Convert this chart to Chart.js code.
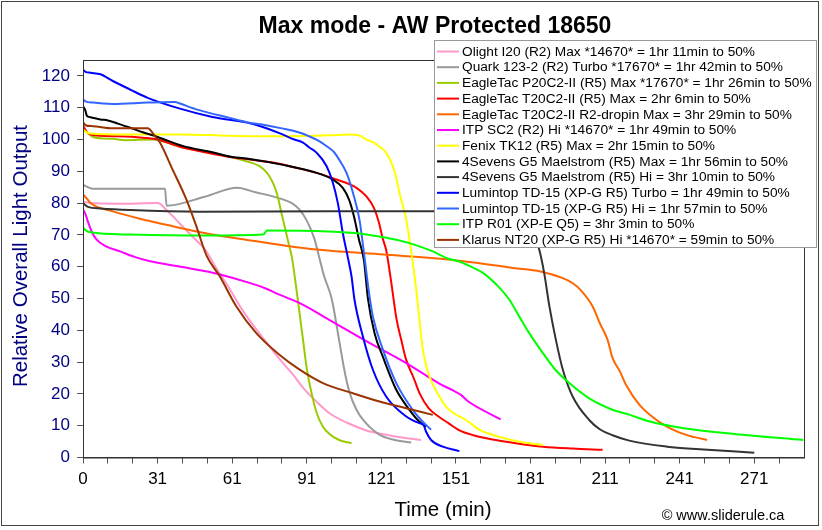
<!DOCTYPE html>
<html>
<head>
<meta charset="utf-8">
<title>Max mode - AW Protected 18650</title>
<script src="https://cdn.jsdelivr.net/npm/chart.js@4"></script>
<style>
  body { margin: 0; background: #fff; }
  #wrap { width: 822px; height: 530px; }
</style>
</head>
<body>
<div id="wrap"><canvas id="runtimeChart" width="822" height="530"></canvas></div>
<script>
// runtime curves, [minutes, relative output]
const olightI20 = [[1,80.5],[4,80],[15,79.8],[31,80],[35,77.5],[40,73.5],[45,69.5],[50,65.5],[55,59],[60,53],[65,46.5],[70,41],[75,36],[80,31],[85,26.5],[90,21.5],[95,17.5],[100,14],[107,11],[115,8.5],[122,7.3],[130,6.2],[137,5.5]];
const quark123 = [[1,85.8],[3,85],[5,84.5],[34,84.5],[34.6,79.2],[50,82],[63,84.8],[70,83.5],[80,81.5],[85,80],[88,78],[91,74.5],[94,69],[96,63],[98,57],[101,50],[104,37],[106,28],[108,21],[111,15],[114,11.5],[120,7.3],[126,5.6],[133,4.7]];
const eagleP20 = [[1,103.5],[3,102],[5,100.8],[13,100.2],[18,99.8],[29,100],[35,99],[40,97.7],[56,95.3],[66,93.3],[72,91.6],[75,89.5],[77,87],[79,83],[80.5,78],[82,73],[83.5,68],[85,63],[86.5,55],[88,46],[89.5,37],[91,28],[93,20],[95,14],[97.5,9.7],[100,7.5],[104,5.5],[109,4.5]];
const eagleT20 = [[1,104.5],[2,103],[4,101.6],[15,101],[26,100.5],[31,100],[40,97.7],[50,96],[60,94.5],[68,93.7],[80,92.4],[84,91.6],[95,89.5],[103,87.4],[108,86],[111,84.8],[115,82.1],[118,78.5],[120,74],[121.5,69],[123,65],[125,55],[127,44],[129,37],[131,30.7],[134,25],[136.5,20],[140,15.5],[144,12.9],[148,10.8],[152,8.7],[158,7],[167,5.5],[175,4.5],[186,3.4],[198,2.8],[210,2.4]];
const eagleDropin = [[1,82.7],[3,81],[4,80],[13,77.4],[27,74.5],[40,72.2],[53,70.1],[67,68.4],[80,66.9],[95,65.4],[122,63.8],[141,62.7],[154,61.7],[174,59.6],[185,58.5],[194,56.4],[198,54.8],[201,52.8],[206,47.5],[209,42],[212,37],[214,31.3],[217,27],[219.5,22.7],[225,16.4],[233,11.1],[241,7.8],[247,6.4],[252,5.5]];
const itpSC2 = [[1,78],[2,76.5],[2.7,74.8],[4.5,71],[6.5,68.5],[10,66.5],[16,64.8],[22,63],[28,61.7],[41,59.9],[51,58.5],[55,57.8],[68,54.9],[74,53.3],[80,51.2],[88,48.6],[100,43.3],[114,37],[131,29.7],[144,23.4],[150,21],[153,19.7],[156,17.6],[169,12]];
const fenixTK12 = [[1,103.1],[2,102.5],[4,101.9],[20,101.6],[40,101.6],[60,101.2],[80,101],[100,101.3],[108,101.6],[112,101.3],[115,100],[118,99],[120,97.9],[123,95.8],[125.6,91.6],[127,88],[128.3,83.2],[131,74.8],[133,65],[135,53],[136.5,42],[137.7,34],[139.5,27.5],[141.7,23],[144.4,19.1],[147,16],[150,14],[155,11.8],[161,8.5],[168,6.6],[176,5],[186,3.9]];
const g5Max = [[1,110.5],[2,109],[2.5,107.5],[4,107],[8,106.3],[11,106],[15,105],[20,103.7],[25,102.3],[31,100.8],[41,98],[53,96],[61,94.5],[68,93.9],[81,92.1],[95,89.5],[101.5,87.4],[105.5,84.8],[108,81.1],[110,75.8],[112,68.5],[114,62],[115.6,50],[118.3,39],[121.6,31.7],[127,21.3],[132.3,15],[136,11.5],[139,9.7]];
const g5Hi = [[1,80],[3,78.8],[8,78.3],[20,77.8],[48,77.3],[100,77.4],[150,77.4],[172,77],[178,75.5],[182,71],[184.5,65.4],[186.5,58],[188.6,47.5],[191.2,37],[194,27.6],[198,19.1],[204.6,11.8],[209,8.8],[214,7],[220.7,5.3],[236,3.4],[249,2.6],[271,1.5]];
const td15Turbo = [[1,122],[2,121.3],[4,121],[8,120.5],[13,118.4],[20,115.7],[27,113.1],[40,109.7],[53,107.1],[67,105.3],[73,104],[80,102],[86,100],[89.5,99],[92,97.5],[95,95.8],[99,91.6],[101.5,86.4],[103.5,80],[105.5,70.6],[107.5,63],[109,57],[110.2,49.6],[113.6,38],[117.6,27.6],[123,19.1],[131,12.9],[136.3,10.8],[138,10.2],[139,8.1],[141,5.5],[145.7,3.4],[152.4,2]];
const td15Hi = [[1,112.6],[2,112],[5,111.6],[13,111.2],[27,111.6],[38,111.8],[40,111.3],[47,109.4],[60,106.8],[68,105.3],[73,104.7],[81,103.5],[88,102.2],[92,101],[96,99.5],[99,97.9],[102,96],[104,93.7],[107,89.5],[109.6,83.2],[112.2,74.8],[114.3,62.5],[116,52],[117.6,44.3],[121.6,34],[127,23.4],[133.6,15],[137,11.8],[141,8.7]];
const itpR01 = [[1,72.4],[2,71.5],[4,70.8],[20,70.1],[50,69.8],[73.5,70.1],[75,71.4],[100,71.1],[110,70.6],[115,70.1],[125,68.8],[132,67.5],[141.7,64.8],[148,62.5],[152,61.7],[157,60],[162,58],[168,53.8],[172.5,49.6],[176.5,44.3],[180.5,39.1],[186,32.8],[191,27.6],[196.6,23.4],[204.6,18.6],[214,15],[221,13.4],[229,11.3],[242.6,9.2],[263,7.4],[290.7,5.5]];
const klarusNT20 = [[1,105.5],[2,104.5],[5,104.2],[13,103.5],[27,103.5],[30,101],[32,99],[37,90.6],[42.6,81.1],[46.6,72.7],[50.7,63.5],[56,57],[62.7,47.5],[70.7,39.1],[80,32.3],[88,27.7],[97.5,23.4],[109.6,20.2],[120.3,17.6],[131,15.5],[141.7,13.4]];

const seriesLabels = [
  'Olight I20 (R2) Max *14670* = 1hr 11min to 50%',
  'Quark 123-2 (R2) Turbo *17670* = 1hr 42min to 50%',
  'EagleTac P20C2-II (R5) Max *17670* = 1hr 26min to 50%',
  'EagleTac T20C2-II (R5) Max = 2hr 6min to 50%',
  'EagleTac T20C2-II R2-dropin Max = 3hr 29min to 50%',
  'ITP SC2 (R2) Hi *14670* = 1hr 49min to 50%',
  'Fenix TK12 (R5) Max = 2hr 15min to 50%',
  '4Sevens G5 Maelstrom (R5) Max = 1hr 56min to 50%',
  '4Sevens G5 Maelstrom (R5) Hi = 3hr 10min to 50%',
  'Lumintop TD-15 (XP-G R5) Turbo = 1hr 49min to 50%',
  'Lumintop TD-15 (XP-G R5) Hi = 1hr 57min to 50%',
  'ITP R01 (XP-E Q5) = 3hr 3min to 50%',
  'Klarus NT20 (XP-G R5) Hi *14670* = 59min to 50%'
];
const seriesData = [olightI20, quark123, eagleP20, eagleT20, eagleDropin, itpSC2, fenixTK12, g5Max, g5Hi, td15Turbo, td15Hi, itpR01, klarusNT20];
const seriesColors = ['#ff99cc', '#999999', '#99cc00', '#ff0000', '#ff6600', '#ff00ff', '#ffff00', '#000000', '#333333', '#0000ff', '#3366ff', '#00ff00', '#993300'];

const xTickValues = [1, 11, 21, 31, 41, 51, 61, 71, 81, 91, 101, 111, 121, 131, 141, 151, 161, 171, 181, 191, 201, 211, 221, 231, 241, 251, 261, 271, 281];
const xTickLabels = { 1: '0', 31: '31', 61: '61', 91: '91', 121: '121', 151: '151', 181: '181', 211: '211', 241: '241', 271: '271' };
const yTickValues = [0, 10, 20, 30, 40, 50, 60, 70, 80, 90, 100, 110, 120];

const chartTitle = 'Max mode - AW Protected 18650';
const xTitle = 'Time (min)';
const yTitle = 'Relative Overall Light Output';
const credit = '\u00a9 www.sliderule.ca';

const FONT = 'Arial, "Liberation Sans", sans-serif';
const NAVY = '#000080';

const decor = {
  id: 'decor',
  beforeDraw(chart) {
    const ctx = chart.ctx;
    ctx.save();
    ctx.fillStyle = '#fff';
    ctx.fillRect(0, 0, chart.width, chart.height);
    ctx.restore();
  },
  afterDraw(chart) {
    const ctx = chart.ctx;
    const a = chart.chartArea;
    ctx.save();
    // plot frame
    ctx.strokeStyle = '#333';
    ctx.lineWidth = 1;
    ctx.strokeRect(a.left + 0.5, a.top + 0.5, a.right - a.left, a.bottom - a.top);
    // outer frame
    ctx.strokeStyle = '#444';
    ctx.strokeRect(1.5, 1.5, 817, 524);

    ctx.fillStyle = '#000';
    ctx.textAlign = 'center';
    ctx.textBaseline = 'middle';
    ctx.font = 'bold 23px ' + FONT;
    ctx.fillText(chartTitle, 435, 27);
    ctx.font = '20.5px ' + FONT;
    ctx.fillText(xTitle, 443, 510);
    ctx.font = '14.5px ' + FONT;
    ctx.fillText(credit, 723, 516);

    ctx.save();
    ctx.translate(21, 256);
    ctx.rotate(-Math.PI / 2);
    ctx.fillStyle = NAVY;
    ctx.font = '20.5px ' + FONT;
    ctx.fillText(yTitle, 0, 0);
    ctx.restore();

    // legend box
    const lx = 434, ly = 40, lw = 382, lh = 207;
    ctx.fillStyle = '#fff';
    ctx.fillRect(lx, ly, lw, lh);
    ctx.strokeStyle = '#999';
    ctx.strokeRect(lx + 0.5, ly + 0.5, lw, lh);
    ctx.font = '13.7px ' + FONT;
    ctx.textAlign = 'left';
    chart.data.datasets.forEach((ds, i) => {
      const yy = 51.5 + i * 15.7;
      ctx.strokeStyle = ds.borderColor;
      ctx.lineWidth = 2;
      ctx.beginPath();
      ctx.moveTo(437, yy);
      ctx.lineTo(459, yy);
      ctx.stroke();
      ctx.fillStyle = '#000';
      ctx.fillText(ds.label, 462, yy + 0.5);
    });
    ctx.restore();
  }
};

new Chart(document.getElementById('runtimeChart'), {
  type: 'line',
  data: {
    datasets: seriesData.map((pts, i) => ({
      label: seriesLabels[i],
      data: pts.map(p => ({ x: p[0], y: p[1] })),
      borderColor: seriesColors[i],
      backgroundColor: seriesColors[i],
      borderWidth: 2,
      pointRadius: 0,
      cubicInterpolationMode: 'monotone',
      fill: false,
      order: seriesData.length - i
    }))
  },
  options: {
    responsive: false,
    animation: false,
    layout: { padding: { top: 60, right: 18, left: 0, bottom: 0 } },
    plugins: {
      legend: { display: false },
      tooltip: { enabled: false }
    },
    scales: {
      x: {
        type: 'linear',
        min: 1,
        max: 291,
        afterBuildTicks: scale => { scale.ticks = xTickValues.map(v => ({ value: v })); },
        afterFit: scale => { scale.height = 72.5; },
        grid: { drawOnChartArea: false, tickLength: 6, color: '#555' },
        border: { color: '#333' },
        ticks: {
          autoSkip: false,
          maxRotation: 0,
          padding: 6,
          color: '#000',
          font: { family: FONT, size: 17 },
          callback: v => xTickLabels[v] || ''
        }
      },
      y: {
        min: 0,
        max: 125,
        afterBuildTicks: scale => { scale.ticks = yTickValues.map(v => ({ value: v })); },
        afterFit: scale => { scale.width = 83; },
        grid: { drawOnChartArea: false, tickLength: 6, color: '#555' },
        border: { color: '#333' },
        ticks: {
          padding: 7,
          color: NAVY,
          font: { family: FONT, size: 17 }
        }
      }
    }
  },
  plugins: [decor]
});
</script>
</body>
</html>
